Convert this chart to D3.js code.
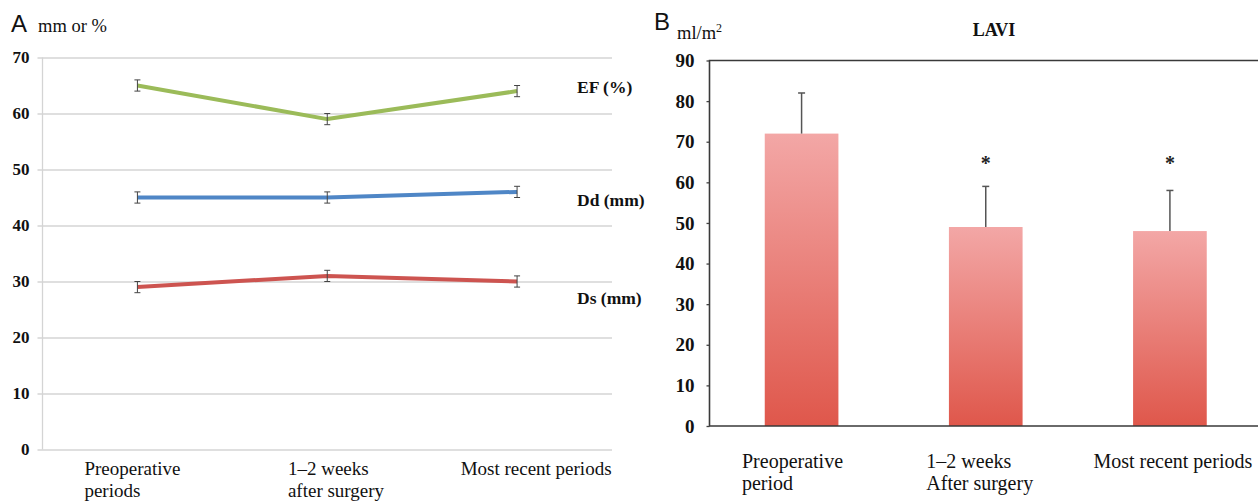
<!DOCTYPE html>
<html>
<head>
<meta charset="utf-8">
<script src="https://cdn.jsdelivr.net/npm/d3@7"></script>
<style>
  html, body { margin: 0; padding: 0; background: #fff; }
  svg { display: block; }
  .serif { font-family: "Liberation Serif", "DejaVu Serif", "Times New Roman", serif; }
  .sans { font-family: "Liberation Sans", Arial, sans-serif; }
</style>
</head>
<body>
<svg id="chart" width="1258" height="501"></svg>
<script>
// ---------- Panel A data ----------
const catsA = [["Preoperative", "periods"], ["1\u20132 weeks", "after surgery"], ["Most recent periods"]];
const seriesNames = ["EF (%)", "Dd (mm)", "Ds (mm)"];
const efVals = [65, 59, 64];
const ddVals = [45, 45, 46];
const dsVals = [29, 31, 30];
const efErr = [1, 1, 1];
const ddErr = [1, 1, 1];
const dsErr = [1, 1, 1];
const seriesLabelVals = [64.8, 44.6, 27.1];
const ticksA = [0, 10, 20, 30, 40, 50, 60, 70];

// ---------- Panel B data ----------
const catsB = [["Preoperative", "period"], ["1\u20132 weeks", "After surgery"], ["Most recent periods"]];
const laviVals = [72, 49, 48];
const laviErr = [10, 10, 10];
const laviSig = [false, true, true];
const starLevel = 66.5;
const ticksB = [0, 10, 20, 30, 40, 50, 60, 70, 80, 90];

const svg = d3.select("#chart");

// ================= PANEL A =================
const A = { left: 42.5, right: 612, top: 57.5, bottom: 449.5 };
const xA = d3.scaleBand().domain(d3.range(catsA.length)).range([A.left, A.right]);
const yA = d3.scaleLinear().domain([0, 70]).range([A.bottom, A.top]);

const gA = svg.append("g");
const yAxisA = d3.axisLeft(yA).tickValues(ticksA).tickSize(A.right - A.left + 5).tickPadding(8);
const gy = gA.append("g").attr("transform", `translate(${A.right},0)`).call(yAxisA);
gy.select(".domain").remove();
gy.selectAll(".tick line").attr("stroke", "#d4d4d4").attr("stroke-width", 1.3);
gy.selectAll(".tick text").attr("font-family", null).attr("class", "serif")
  .attr("font-weight", "bold").attr("font-size", 17).attr("fill", "#111");
gy.attr("font-family", null);
gA.append("line").attr("x1", A.left).attr("x2", A.left).attr("y1", A.top).attr("y2", A.bottom)
  .attr("stroke", "#d4d4d4").attr("stroke-width", 1.3);

// x labels
const shiftA = [-5, 9, 19];
catsA.forEach((lines, i) => {
  const t = gA.append("text").attr("class", "serif").attr("font-size", 19).attr("fill", "#111");
  lines.forEach((ln, j) => {
    t.append("tspan").attr("x", 0).attr("y", A.bottom + 25 + j * 22).text(ln);
  });
  const w = t.node().getBBox().width;
  const x0 = xA(i) + xA.bandwidth() / 2 - w / 2 + shiftA[i];
  t.selectAll("tspan").attr("x", x0);
});

// series
const seriesData = [
  { name: seriesNames[0], vals: efVals, err: efErr, color: "#9bbb59" },
  { name: seriesNames[1], vals: ddVals, err: ddErr, color: "#4f86c6" },
  { name: seriesNames[2], vals: dsVals, err: dsErr, color: "#cd5450" }
];
const cx = i => xA(i) + xA.bandwidth() / 2;
const line = d3.line().x((d, i) => cx(i)).y(d => yA(d));
seriesData.forEach((s, si) => {
  gA.append("path").datum(s.vals).attr("d", line)
    .attr("fill", "none").attr("stroke", s.color).attr("stroke-width", 4).attr("stroke-linejoin", "round");
  s.vals.forEach((v, i) => {
    const x = cx(i), y1 = yA(v + s.err[i]), y2 = yA(v - s.err[i]);
    gA.append("line").attr("x1", x).attr("x2", x).attr("y1", y1).attr("y2", y2).attr("stroke", "#444").attr("stroke-width", 1);
    [y1, y2].forEach(yy => gA.append("line").attr("x1", x - 3).attr("x2", x + 3).attr("y1", yy).attr("y2", yy)
      .attr("stroke", "#444").attr("stroke-width", 1));
  });
  gA.append("text").attr("x", 577).attr("y", yA(seriesLabelVals[si])).attr("dy", "0.35em")
    .attr("class", "serif").attr("font-weight", "bold").attr("font-size", 17.5).attr("fill", "#111")
    .text(s.name);
});

gA.append("text").attr("x", 11).attr("y", 32).attr("class", "sans").attr("font-size", 24).attr("fill", "#111").text("A");
gA.append("text").attr("x", 38).attr("y", 32).attr("class", "serif").attr("font-size", 18.5).attr("fill", "#111").text("mm or %");

// ================= PANEL B =================
const B = { left: 709.5, right: 1262, top: 60.5, bottom: 426 };
const xB = d3.scaleBand().domain(d3.range(catsB.length)).range([B.left, B.right]).paddingInner(0.6).paddingOuter(0.3);
const yB = d3.scaleLinear().domain([0, 90]).range([B.bottom, B.top]);
const gB = svg.append("g");

const defs = svg.append("defs");
const grad = defs.append("linearGradient").attr("id", "barGrad").attr("x1", 0).attr("y1", 0).attr("x2", 0).attr("y2", 1);
grad.append("stop").attr("offset", "0%").attr("stop-color", "#f3a7a6");
grad.append("stop").attr("offset", "100%").attr("stop-color", "#df574b");

gB.selectAll("rect.bar").data(laviVals).join("rect").attr("class", "bar")
  .attr("x", (d, i) => xB(i)).attr("width", xB.bandwidth())
  .attr("y", d => yB(d)).attr("height", d => yB(0) - yB(d))
  .attr("fill", "url(#barGrad)");

laviVals.forEach((v, i) => {
  const x = xB(i) + xB.bandwidth() / 2;
  gB.append("line").attr("x1", x).attr("x2", x).attr("y1", yB(v)).attr("y2", yB(v + laviErr[i]))
    .attr("stroke", "#555").attr("stroke-width", 1.5);
  gB.append("line").attr("x1", x - 3.5).attr("x2", x + 3.5).attr("y1", yB(v + laviErr[i])).attr("y2", yB(v + laviErr[i]))
    .attr("stroke", "#555").attr("stroke-width", 1.5);
  if (laviSig[i]) {
    gB.append("text").attr("x", x).attr("y", yB(starLevel)).attr("dy", "0.7em").attr("text-anchor", "middle")
      .attr("class", "serif").attr("font-weight", "bold").attr("font-size", 20).attr("fill", "#222").text("*");
  }
});

const yAxisB = d3.axisLeft(yB).tickValues(ticksB).tickSize(3).tickPadding(12);
const gyB = gB.append("g").attr("transform", `translate(${B.left},0)`).call(yAxisB);
gyB.attr("font-family", null);
gyB.select(".domain").remove();
gyB.selectAll(".tick line").attr("stroke", "#444").attr("stroke-width", 1.3);
gyB.selectAll(".tick text").attr("class", "serif")
  .attr("font-weight", "bold").attr("font-size", 19).attr("fill", "#111");
gB.append("path")
  .attr("d", `M${B.right},${B.top}H${B.left}V${B.bottom}H${B.right}`)
  .attr("fill", "none").attr("stroke", "#3a3a3a").attr("stroke-width", 1.6);

const shiftB = [-9, -6, 3];
catsB.forEach((lines, i) => {
  const t = gB.append("text").attr("class", "serif").attr("font-size", 20).attr("fill", "#111");
  lines.forEach((ln, j) => {
    t.append("tspan").attr("x", 0).attr("y", B.bottom + 42 + j * 22).text(ln);
  });
  const w = t.node().getBBox().width;
  const x0 = xB(i) + xB.bandwidth() / 2 - w / 2 + shiftB[i];
  t.selectAll("tspan").attr("x", x0);
});

gB.append("text").attr("x", 654).attr("y", 30).attr("class", "sans").attr("font-size", 24).attr("fill", "#111").text("B");
const unit = gB.append("text").attr("x", 677).attr("y", 39).attr("class", "serif").attr("font-size", 18.5).attr("fill", "#111");
unit.append("tspan").text("ml/m");
unit.append("tspan").attr("font-size", 12).attr("dy", -7).text("2");
gB.append("text").attr("x", 994).attr("y", 36).attr("text-anchor", "middle")
  .attr("class", "serif").attr("font-weight", "bold").attr("font-size", 18).attr("fill", "#111").text("LAVI");
</script>
</body>
</html>
